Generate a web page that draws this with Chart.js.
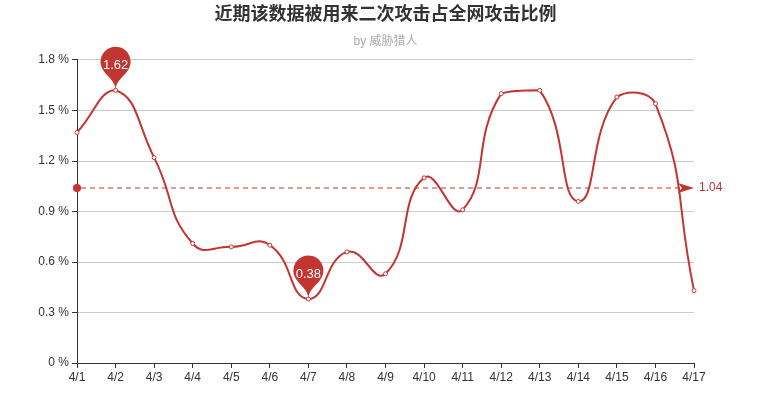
<!DOCTYPE html>
<html>
<head>
<meta charset="utf-8">
<script src="https://cdn.jsdelivr.net/npm/chart.js@4/dist/chart.umd.min.js"></script>
<style>
  html, body { margin: 0; padding: 0; background: #fff; }
  #wrap { width: 771px; height: 403px; }
</style>
</head>
<body>
<div id="wrap"><canvas id="attack-chart"></canvas></div>
<script>
// dates on the x axis
let days = ['4/1', '4/2', '4/3', '4/4', '4/5', '4/6', '4/7', '4/8', '4/9',
    '4/10', '4/11', '4/12', '4/13', '4/14', '4/15', '4/16', '4/17']
// share of all attacks (percent)
let shares = [1.37, 1.62, 1.22, 0.71, 0.69, 0.70, 0.38, 0.66, 0.53,
    1.10, 0.91, 1.60, 1.62, 0.96, 1.58, 1.54, 0.43]
// y axis ticks and their labels
let yTicks = [0, 0.3, 0.6, 0.9, 1.2, 1.5, 1.8]
let yTickLabels = ['0 %', '0.3 %', '0.6 %', '0.9 %', '1.2 %', '1.5 %', '1.8 %']

let red = '#c23531'
let font = '"Liberation Sans", "Noto Sans CJK SC", sans-serif'

// keep bezier control points inside the box of the points (like echarts smoothConstraint)
let clampPlugin = {
    id: 'clampCurve',
    beforeDatasetsDraw(chart) {
        let meta = chart.getDatasetMeta(0)
        meta.dataset.updateControlPoints(chart.chartArea, 'x')
        let pts = meta.data
        let xs = pts.map(p => p.x), ys = pts.map(p => p.y)
        let minX = Math.min(...xs), maxX = Math.max(...xs)
        let minY = Math.min(...ys), maxY = Math.max(...ys)
        let clamp = (v, a, b) => Math.max(a, Math.min(b, v))
        pts.forEach(function(p) {
            p.cp1x = clamp(p.cp1x, minX, maxX)
            p.cp2x = clamp(p.cp2x, minX, maxX)
            p.cp1y = clamp(p.cp1y, minY, maxY)
            p.cp2y = clamp(p.cp2y, minY, maxY)
        })
    }
}

// draws the max / min pins and the average line, like echarts markPoint / markLine
let markPlugin = {
    id: 'marks',
    afterDatasetsDraw(chart) {
        let ctx = chart.ctx
        let meta = chart.getDatasetMeta(0)
        let yScale = chart.scales.y
        let area = chart.chartArea

        // average line
        let avg = shares.reduce((a, b) => a + b, 0) / shares.length
        let ay = Math.floor(yScale.getPixelForValue(avg))
        ctx.save()
        ctx.strokeStyle = red
        ctx.fillStyle = red
        ctx.lineWidth = 1
        ctx.setLineDash([5, 4])
        ctx.beginPath()
        ctx.moveTo(area.left + 4, ay)
        ctx.lineTo(area.right - 12, ay)
        ctx.stroke()
        ctx.setLineDash([])
        ctx.beginPath()
        ctx.arc(area.left, ay, 4, 0, Math.PI * 2)
        ctx.fill()
        // arrow head
        ctx.beginPath()
        ctx.moveTo(area.right, ay)
        ctx.lineTo(area.right - 16, ay - 5)
        ctx.lineTo(area.right - 12, ay)
        ctx.lineTo(area.right - 16, ay + 5)
        ctx.closePath()
        ctx.fill()
        ctx.font = '12px ' + font
        ctx.textAlign = 'left'
        ctx.textBaseline = 'middle'
        ctx.fillText(avg.toFixed(2), area.right + 5, ay)
        ctx.restore()

        // pins for max and min
        let maxIdx = shares.indexOf(Math.max(...shares))
        let minIdx = shares.indexOf(Math.min(...shares))
        ;[maxIdx, minIdx].forEach(function(i) {
            let pt = meta.data[i]
            drawPin(ctx, pt.x, pt.y, 50, 50)
            ctx.save()
            ctx.fillStyle = '#fff'
            ctx.font = '13px ' + font
            ctx.textAlign = 'center'
            ctx.textBaseline = 'middle'
            ctx.fillText(shares[i].toFixed(2), pt.x, pt.y - 25)
            ctx.restore()
        })
    }
}

// echarts 'pin' symbol, tip at (x, y)
function drawPin(ctx, x, y, width, height) {
    let w = width / 5 * 3
    let h = Math.max(w, height)
    let r = w / 2
    let dy = r * r / (h - r)
    let cy = y - h + r + dy
    let angle = Math.asin(dy / r)
    let dx = Math.cos(angle) * r
    let tanX = Math.sin(angle)
    let tanY = Math.cos(angle)
    let cpLen = r * 0.6
    let cpLen2 = r * 0.7
    ctx.save()
    ctx.fillStyle = red
    ctx.beginPath()
    ctx.moveTo(x - dx, cy + dy)
    ctx.arc(x, cy, r, Math.PI - angle, Math.PI * 2 + angle)
    ctx.bezierCurveTo(x + dx - tanX * cpLen, cy + dy + tanY * cpLen, x, y - cpLen2, x, y)
    ctx.bezierCurveTo(x, y - cpLen2, x - dx + tanX * cpLen, cy + dy + tanY * cpLen, x - dx, cy + dy)
    ctx.closePath()
    ctx.fill()
    ctx.restore()
}

let canvas = document.querySelector('#attack-chart')
let context = canvas.getContext('2d')

let chart = new Chart(context, {
    type: 'line',
    data: {
        labels: days,
        datasets: [{
            data: shares,
            borderColor: red,
            borderWidth: 2,
            tension: 0.5,
            pointRadius: 2,
            pointBorderWidth: 1,
            pointBackgroundColor: '#fff',
            pointBorderColor: red,
            fill: false
        }]
    },
    options: {
        responsive: true,
        maintainAspectRatio: false,
        animation: false,
        layout: { padding: 0 },
        plugins: {
            legend: { display: false },
            tooltip: { enabled: false },
            title: {
                display: true,
                text: '近期该数据被用来二次攻击占全网攻击比例',
                color: '#333',
                font: { family: font, size: 18, weight: 'bold' },
                padding: { top: 4.5, bottom: 8.5 }
            },
            subtitle: {
                display: true,
                text: 'by 威胁猎人',
                color: '#aaa',
                font: { family: font, size: 12 },
                padding: { top: 0, bottom: 11 }
            }
        },
        scales: {
            x: {
                offset: false,
                afterFit: function(scale) { scale.height = 40 },
                border: { color: '#333', width: 1 },
                grid: { drawOnChartArea: false, drawTicks: true, tickLength: 5, color: '#333' },
                ticks: { color: '#333', font: { family: font, size: 12 }, padding: 2, maxRotation: 0, autoSkip: false }
            },
            y: {
                min: 0,
                max: 1.8,
                afterFit: function(scale) { scale.width = 77 },
                afterBuildTicks: function(scale) { scale.ticks = yTicks.map(v => ({ value: v })) },
                border: { color: '#333', width: 1 },
                grid: { color: '#ccc', tickColor: '#333', tickLength: 5 },
                ticks: {
                    color: '#333',
                    font: { family: font, size: 12 },
                    padding: 3,
                    callback: function(value, index) { return yTickLabels[index] }
                }
            },
            // empty axis on the right, only to leave room for the average label
            yRight: {
                position: 'right',
                min: 0,
                max: 1.8,
                afterFit: function(scale) { scale.width = 77 },
                border: { display: false },
                grid: { display: false },
                ticks: { display: false }
            }
        }
    },
    plugins: [clampPlugin, markPlugin]
})
</script>
</body>
</html>
